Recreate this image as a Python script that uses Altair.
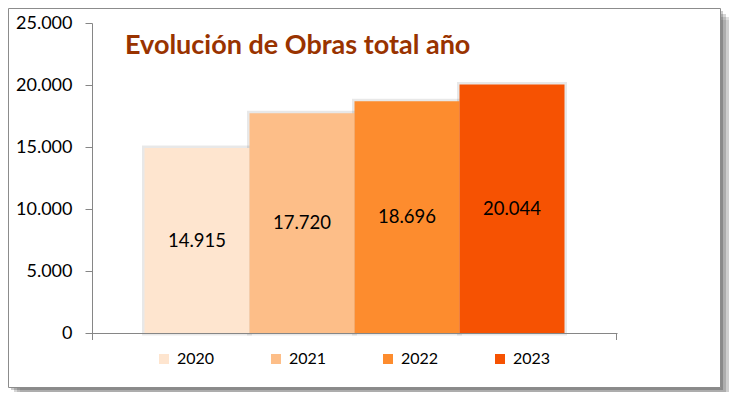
import altair as alt
import pandas as pd

# ---- data ----
years = ["2020", "2021", "2022", "2023"]
values = [14915, 17720, 18696, 20044]
colors = ["#FEE5CF", "#FDBE88", "#FD8C2E", "#F65202"]
y_ticks = [0, 5000, 10000, 15000, 20000, 25000]
title_text = "Evolución de Obras total año"

df = pd.DataFrame({"year": years, "value": values})
dummy = pd.DataFrame({"k": [0]})

W, H = 525, 310
FONT = "Lato"
PAD = {"left": 84, "top": 15, "right": 112, "bottom": 59}

xscale = alt.Scale(domain=years, paddingInner=0, paddingOuter=0.5)
yscale = alt.Scale(domain=[0, 25000], nice=False)
cscale = alt.Scale(domain=years, range=colors)

# frame + shadow (decoration)
fx0, fx1, fy0, fy1 = -84, 628, -15, 364
shadows = []
for off, op in [(12, 0.08), (9, 0.12), (6, 0.16), (3, 0.2)]:
    shadows.append(
        alt.Chart(dummy).mark_rect(color="#000000", opacity=op).encode(
            x=alt.value(fx0 + off), x2=alt.value(fx1 + off),
            y=alt.value(fy0 + off), y2=alt.value(fy1 + off)
        )
    )
frame = alt.Chart(dummy).mark_rect(fill="#FFFFFF", stroke="#8C8C8C", strokeWidth=1).encode(
    x=alt.value(fx0 + 0.5), x2=alt.value(fx1 + 0.5),
    y=alt.value(fy0 + 0.5), y2=alt.value(fy1 + 0.5)
)

yaxis = alt.Axis(
    values=y_ticks,
    labelExpr="replace(format(datum.value, ','), ',', '.')",
    domainColor="#868686", tickColor="#868686", tickSize=7,
    labelPadding=13, labelFontSize=18, labelFont=FONT, labelColor="#000000",
    grid=False, title=None, zindex=1,
)
xaxis = alt.Axis(labels=False, ticks=False, domain=True, domainColor="#868686",
                 title=None, zindex=1)

base = alt.Chart(df)

glow = base.mark_bar(fillOpacity=0, stroke="#000000", strokeOpacity=0.09, strokeWidth=5).encode(
    x=alt.X("year:N", scale=xscale, axis=xaxis),
    y=alt.Y("value:Q", scale=yscale, axis=yaxis),
)

bars = base.mark_bar().encode(
    x=alt.X("year:N", scale=xscale, axis=xaxis),
    y=alt.Y("value:Q", scale=yscale, axis=yaxis),
    color=alt.Color(
        "year:N", scale=cscale,
        legend=alt.Legend(
            orient="none", legendX=64, legendY=328, direction="horizontal",
            symbolType="square", symbolSize=100, symbolStrokeWidth=0,
            labelFontSize=16, labelFont=FONT, labelColor="#000000",
            labelOffset=5, columnPadding=53, padding=0, title=None, zindex=1,
        ),
    ),
)

labels = base.transform_calculate(
    mid="datum.value / 2",
    lbl="replace(format(datum.value, ','), ',', '.')",
).mark_text(font=FONT, fontSize=18.5, color="#000000", align="center", baseline="middle").encode(
    x=alt.X("year:N", scale=xscale),
    y=alt.Y("mid:Q", scale=yscale),
    text="lbl:N",
)

end_ticks = [
    alt.Chart(dummy).mark_rule(color="#868686").encode(
        x=alt.value(xv), y=alt.value(H), y2=alt.value(H + 7)
    )
    for xv in [0.5, W - 0.5]
]

title = alt.Chart(dummy).mark_text(
    font=FONT, fontSize=27, fontWeight="bold", color="#993300",
    align="left", baseline="alphabetic",
).encode(x=alt.value(33), y=alt.value(31), text=alt.value(title_text))

chart = alt.layer(
    *shadows, frame, glow, bars, labels, *end_ticks, title
).properties(
    width=W, height=H,
    autosize=alt.AutoSizeParams(type="none"),
    padding=PAD,
    background="#FFFFFF",
).configure_view(stroke=None)

chart.save("out.html", embed_options={"renderer": "svg", "actions": False})
